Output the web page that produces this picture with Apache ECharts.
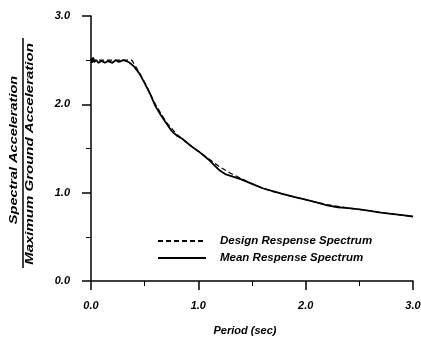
<!DOCTYPE html>
<html>
<head>
<meta charset="utf-8">
<script src="https://cdn.jsdelivr.net/npm/echarts@6/dist/echarts.min.js"></script>
<style>
  html, body { margin: 0; padding: 0; background: #fff; }
  #chart { width: 421px; height: 337px; }
</style>
</head>
<body>
<div id="chart"></div>
<script>
// values (period in sec, SA / PGA)
const designPeriod = [0, 0.1, 0.2, 0.3, 0.38, 0.45, 0.5, 0.6, 0.7, 0.8, 0.9, 1.0, 1.1, 1.2, 1.3, 1.4, 1.5,
  1.6, 1.7, 1.8, 1.9, 2.0, 2.1, 2.2, 2.3, 2.4, 2.5, 2.6, 2.7, 2.8, 2.9, 3.0];
const designValue = [2.5, 2.5, 2.5, 2.5, 2.5, 2.36, 2.25, 2.0, 1.8, 1.66, 1.56, 1.47, 1.38, 1.29, 1.22, 1.16, 1.1,
  1.05, 1.01, 0.98, 0.95, 0.92, 0.89, 0.865, 0.845, 0.825, 0.81, 0.795, 0.775, 0.76, 0.745, 0.73];

const meanPeriod = [0, 0.01, 0.02, 0.03, 0.05, 0.07, 0.1, 0.13, 0.16, 0.2, 0.23, 0.26, 0.3, 0.33, 0.36, 0.4,
  0.45, 0.5, 0.55, 0.6, 0.65, 0.7, 0.75, 0.8, 0.85, 0.9, 0.95, 1.0, 1.1, 1.15, 1.2, 1.25, 1.3, 1.4, 1.5,
  1.6, 1.7, 1.8, 1.9, 2.0, 2.1, 2.2, 2.3, 2.4, 2.5, 2.6, 2.7, 2.8, 2.9, 3.0];
const meanValue = [2.52, 2.47, 2.53, 2.48, 2.5, 2.47, 2.49, 2.47, 2.49, 2.47, 2.5, 2.48, 2.5, 2.49, 2.47, 2.43,
  2.35, 2.24, 2.12, 1.98, 1.88, 1.79, 1.7, 1.645, 1.61, 1.56, 1.51, 1.47, 1.37, 1.31, 1.25, 1.21, 1.19, 1.15, 1.1,
  1.05, 1.015, 0.98, 0.95, 0.92, 0.89, 0.855, 0.835, 0.825, 0.81, 0.795, 0.775, 0.76, 0.745, 0.73];

const seriesNames = ['Design Respense Spectrum', 'Mean Respense Spectrum'];
const yTitleTop = 'Spectral Acceleration';
const yTitleBottom = 'Maximum Ground Acceleration';
const xTitle = 'Period (sec)';

const font = '"Liberation Sans", Arial, sans-serif';
const zip = (xs, ys) => xs.map((x, i) => [x, ys[i]]);

const chart = echarts.init(document.getElementById('chart'));

const axisCommon = {
  type: 'value',
  min: 0,
  max: 3,
  interval: 1,
  axisLine: {show: true, onZero: false, lineStyle: {color: '#000', width: 1.5}},
  axisTick: {show: true, inside: false, length: 9, lineStyle: {color: '#000', width: 1.5}},
  minorTick: {show: true, splitNumber: 2, length: 5, lineStyle: {color: '#000', width: 1}},
  splitLine: {show: false},
  axisLabel: {
    color: '#000',
    fontFamily: font,
    fontSize: 11,
    fontWeight: 'bold',
    fontStyle: 'italic',
    formatter: (v) => v.toFixed(1),
  },
};

chart.setOption({
  animation: false,
  grid: {left: 91, right: 8, top: 16, bottom: 56, outerBoundsMode: 'none'},
  legend: {
    orient: 'vertical',
    left: 152,
    top: 230,
    itemWidth: 48,
    itemHeight: 10,
    itemGap: 5,
    itemStyle: {opacity: 0},
    textStyle: {
      color: '#000',
      fontFamily: font,
      fontSize: 11.5,
      fontWeight: 'bold',
      fontStyle: 'italic',
      padding: [0, 0, 0, 9],
    },
    data: seriesNames,
  },
  xAxis: {
    ...axisCommon,
    axisLabel: {...axisCommon.axisLabel, margin: 19},
    name: xTitle,
    nameLocation: 'middle',
    nameGap: 44,
    nameTextStyle: {
      color: '#000',
      fontFamily: font,
      fontSize: 11,
      fontWeight: 'bold',
      fontStyle: 'italic',
      padding: [0, 14, 0, 0],
    },
  },
  yAxis: {
    ...axisCommon,
    axisLabel: {...axisCommon.axisLabel, margin: 21},
  },
  graphic: [
    {
      type: 'text',
      x: 14,
      y: 150,
      rotation: Math.PI / 2,
      scaleX: 1.45,
      style: {
        text: yTitleTop,
        font: 'italic bold 10px ' + font,
        fill: '#000',
        align: 'center',
        verticalAlign: 'middle',
      },
    },
    {
      type: 'line',
      shape: {x1: 23, y1: 38, x2: 23, y2: 268},
      style: {stroke: '#000', lineWidth: 1.5},
    },
    {
      type: 'text',
      x: 30,
      y: 154,
      rotation: Math.PI / 2,
      scaleX: 1.5,
      style: {
        text: yTitleBottom,
        font: 'italic bold 10px ' + font,
        fill: '#000',
        align: 'center',
        verticalAlign: 'middle',
      },
    },
  ],
  series: [
    {
      name: seriesNames[0],
      type: 'line',
      showSymbol: false,
      symbol: 'none',
      lineStyle: {color: '#000', width: 1.2, type: [5, 3]},
      itemStyle: {color: '#000'},
      data: zip(designPeriod, designValue),
    },
    {
      name: seriesNames[1],
      type: 'line',
      showSymbol: false,
      symbol: 'none',
      lineStyle: {color: '#000', width: 1.8},
      itemStyle: {color: '#000'},
      data: zip(meanPeriod, meanValue),
    },
  ],
});
</script>
</body>
</html>
